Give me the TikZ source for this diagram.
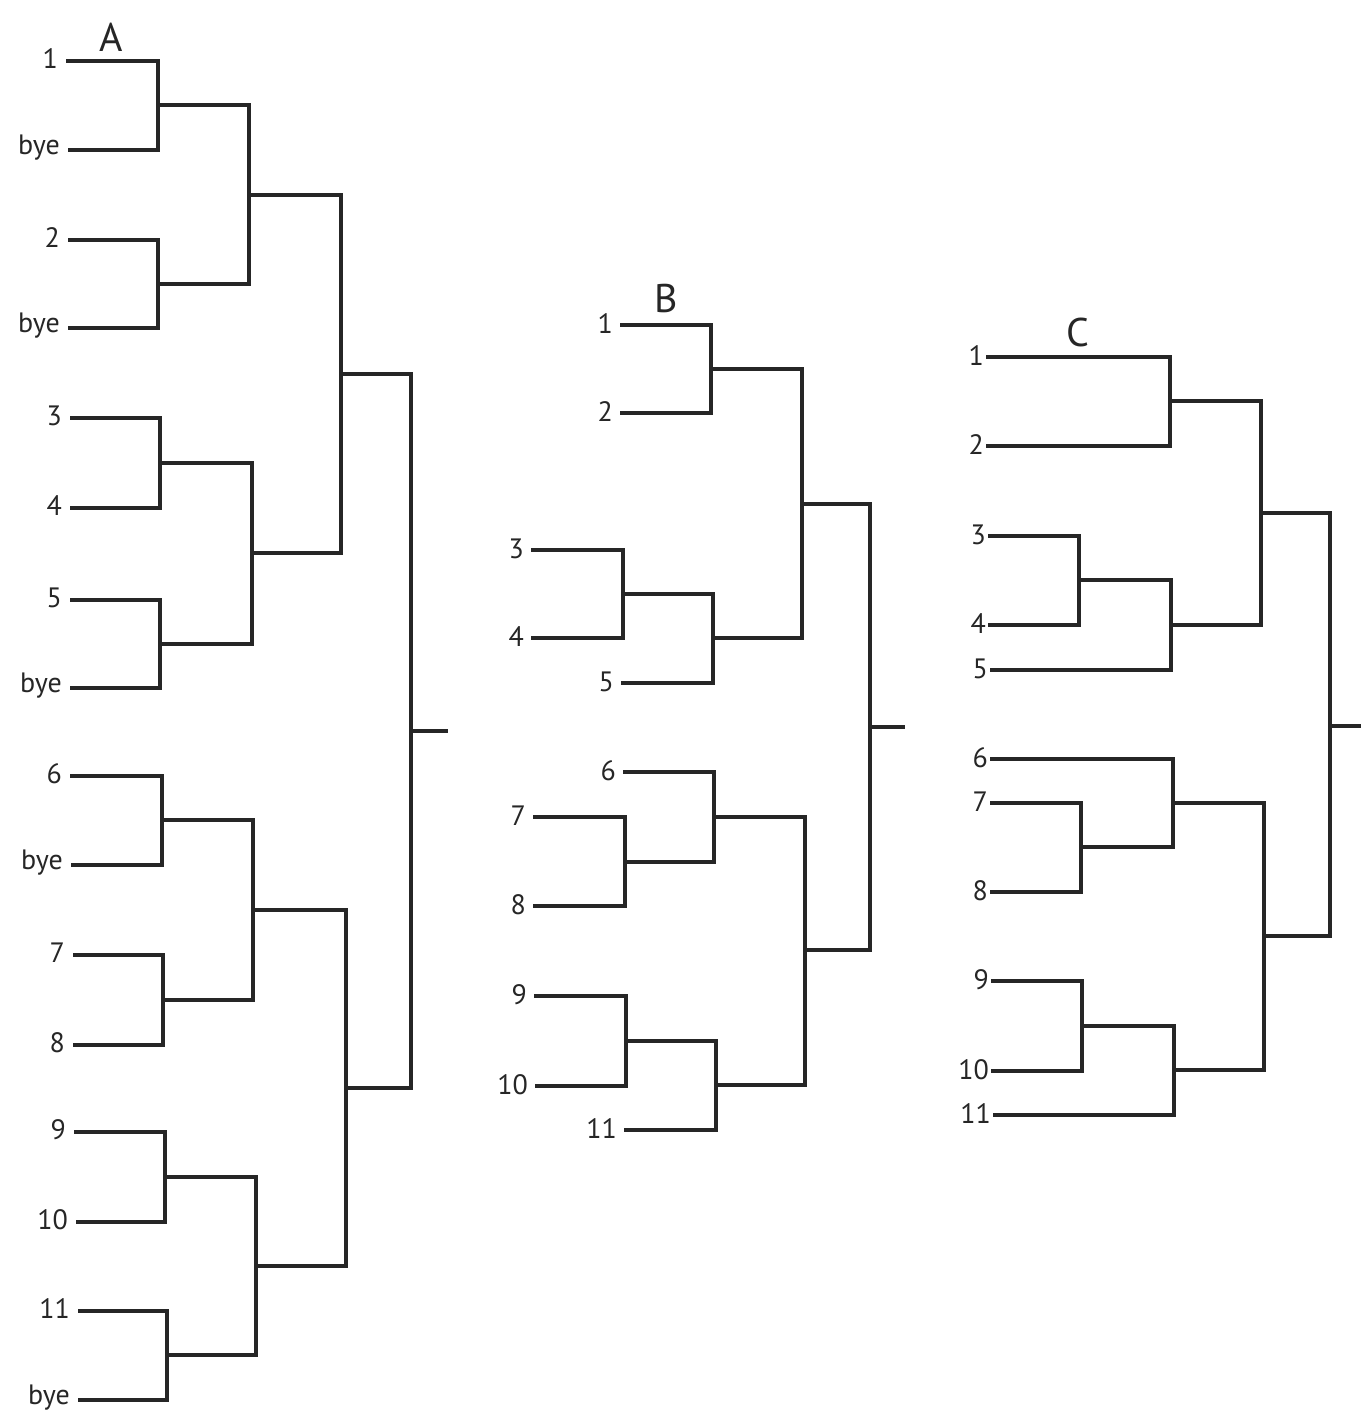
\documentclass[tikz,border=0pt]{standalone}
\usepackage{fontspec}
\setmainfont{PT Sans}
\begin{document}
\begin{tikzpicture}[x=1pt,y=-1pt,
  br/.style={draw=black!85,line width=3.4pt,line cap=rect},
  lab/.style={anchor=east,font=\fontsize{28}{28}\selectfont,text=black!85,inner sep=0pt},
  head/.style={font=\fontsize{40}{40}\selectfont,text=black!85,inner sep=0pt}]
\useasboundingbox[fill=white] (0,0) rectangle (1360,1410);
% ---------- A ----------
\node[head] (hA) at (111,37) {A};
\foreach \n/\x/\y/\t in {1/68/61/1,2/70/150/bye,3/70/240/2,4/70/328/bye,5/72/418/3,6/72/508/4,7/72/600/5,8/72/688/bye,9/72/776/6,10/73/865/bye,11/75/955/7,12/75/1045/8,13/76/1132/9,14/78/1222/10,15/80/1311/11,16/80/1400/bye}{
  \coordinate (A\n) at (\x,\y);
  \node[lab] (lA\n) at (\x-10,\y-2) {\t};
}
\coordinate (Ar1) at (158,105);
\coordinate (Ar2) at (158,284);
\coordinate (Ar3) at (160,463);
\coordinate (Ar4) at (160,644);
\coordinate (Ar5) at (162,820);
\coordinate (Ar6) at (163,1000);
\coordinate (Ar7) at (165,1177);
\coordinate (Ar8) at (167,1355);
\coordinate (As1) at (249,195);
\coordinate (As2) at (252,553);
\coordinate (As3) at (253,910);
\coordinate (As4) at (256,1266);
\coordinate (At1) at (341,374);
\coordinate (At2) at (346,1088);
\coordinate (Af) at (411,731);
\coordinate (Aout) at (446,731);
\draw[br] (A1) -| (Ar1) |- (A2);
\draw[br] (A3) -| (Ar2) |- (A4);
\draw[br] (A5) -| (Ar3) |- (A6);
\draw[br] (A7) -| (Ar4) |- (A8);
\draw[br] (A9) -| (Ar5) |- (A10);
\draw[br] (A11) -| (Ar6) |- (A12);
\draw[br] (A13) -| (Ar7) |- (A14);
\draw[br] (A15) -| (Ar8) |- (A16);
\draw[br] (Ar1) -| (As1) |- (Ar2);
\draw[br] (Ar3) -| (As2) |- (Ar4);
\draw[br] (Ar5) -| (As3) |- (Ar6);
\draw[br] (Ar7) -| (As4) |- (Ar8);
\draw[br] (As1) -| (At1) |- (As2);
\draw[br] (As3) -| (At2) |- (As4);
\draw[br] (At1) -| (Af) |- (At2);
\draw[br] (Af) -- (Aout);
% ---------- B ----------
\node[head] (hB) at (666,298) {B};
\foreach \n/\x/\y/\t in {1/622/325/1,2/622/413/2,3/533/550/3,4/533/638/4,5/623/683/5,6/625/772/6,7/535/817/7,8/535/906/8,9/536/996/9,10/537/1086/10,11/626/1130/11}{
  \coordinate (B\n) at (\x,\y);
  \node[lab] (lB\n) at (\x-9,\y-1) {\t};
}
\coordinate (Br1) at (711,369);
\coordinate (Br2) at (623,594);
\coordinate (Bs2) at (713,638);
\coordinate (Bs1) at (802,504);
\coordinate (Br3) at (625,862);
\coordinate (Bs3) at (714,817);
\coordinate (Br4) at (626,1041);
\coordinate (Bs4) at (716,1085);
\coordinate (Bt2) at (805,950);
\coordinate (Bf) at (870,727);
\coordinate (Bout) at (903,727);
\draw[br] (B1) -| (Br1) |- (B2);
\draw[br] (B3) -| (Br2) |- (B4);
\draw[br] (Br2) -| (Bs2) |- (B5);
\draw[br] (Br1) -| (Bs1) |- (Bs2);
\draw[br] (B7) -| (Br3) |- (B8);
\draw[br] (B6) -| (Bs3) |- (Br3);
\draw[br] (B9) -| (Br4) |- (B10);
\draw[br] (Br4) -| (Bs4) |- (B11);
\draw[br] (Bs3) -| (Bt2) |- (Bs4);
\draw[br] (Bs1) -| (Bf) |- (Bt2);
\draw[br] (Bf) -- (Bout);
% ---------- C ----------
\node[head] (hC) at (1078,332) {C};
\foreach \n/\x/\y/\t in {1/988/357/1,2/988/446/2,3/990/536/3,4/990/625/4,5/992/670/5,6/992/759/6,7/992/803/7,8/992/892/8,9/993/981/9,10/993/1071/10,11/995/1115/11}{
  \coordinate (C\n) at (\x,\y);
  \node[lab] (lC\n) at (\x-4,\y-1) {\t};
}
\coordinate (Cr1) at (1170,401);
\coordinate (Cr2) at (1079,580);
\coordinate (Cs2) at (1171,625);
\coordinate (Ct1) at (1261,513);
\coordinate (Cr3) at (1081,847);
\coordinate (Cs3) at (1173,803);
\coordinate (Cr4) at (1082,1026);
\coordinate (Cs4) at (1174,1070);
\coordinate (Ct2) at (1264,936);
\coordinate (Cf) at (1330,726);
\coordinate (Cout) at (1360,726);
\draw[br] (C1) -| (Cr1) |- (C2);
\draw[br] (C3) -| (Cr2) |- (C4);
\draw[br] (Cr2) -| (Cs2) |- (C5);
\draw[br] (Cr1) -| (Ct1) |- (Cs2);
\draw[br] (C7) -| (Cr3) |- (C8);
\draw[br] (C6) -| (Cs3) |- (Cr3);
\draw[br] (C9) -| (Cr4) |- (C10);
\draw[br] (Cr4) -| (Cs4) |- (C11);
\draw[br] (Cs3) -| (Ct2) |- (Cs4);
\draw[br] (Ct1) -| (Cf) |- (Ct2);
\draw[br] (Cf) -- (Cout);
\end{tikzpicture}
\end{document}
